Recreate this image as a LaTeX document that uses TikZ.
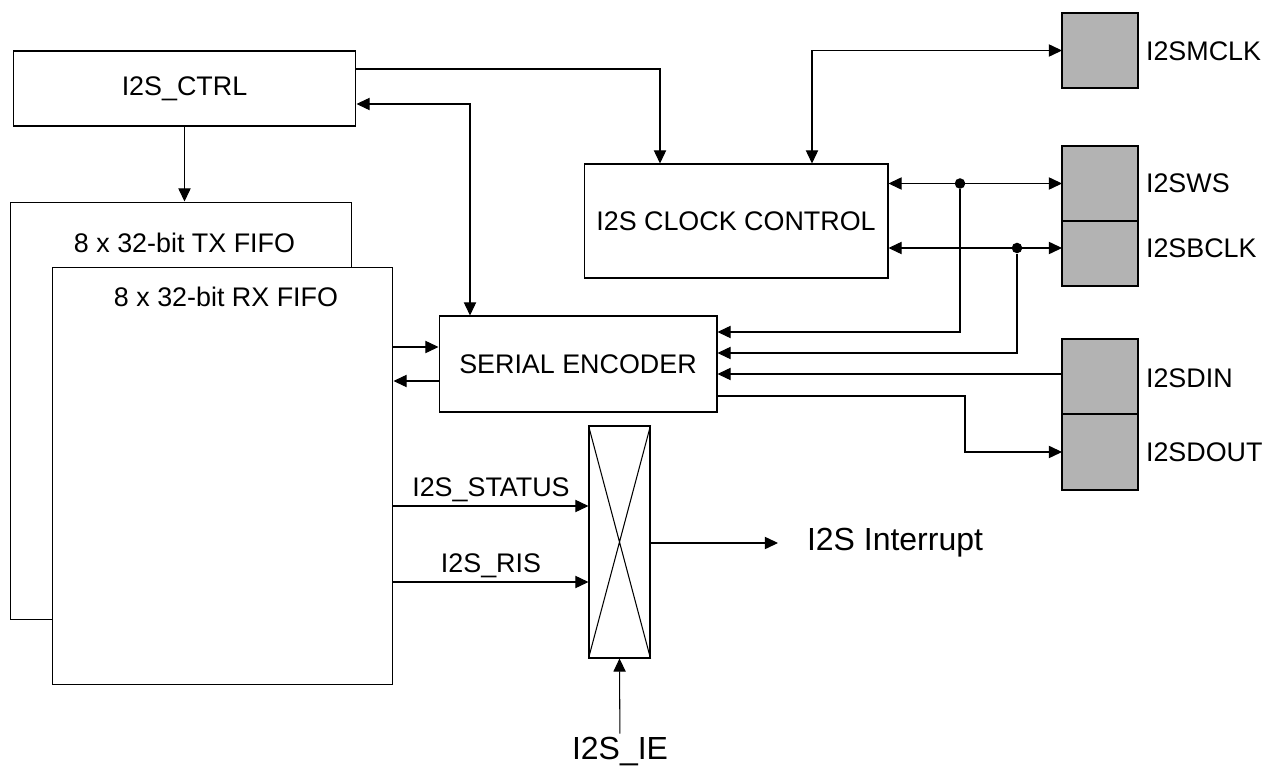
\documentclass[tikz,border=0pt]{standalone}
\usepackage{fontspec}
\setmainfont{Liberation Sans}
\usetikzlibrary{positioning,arrows.meta}
\definecolor{padgray}{RGB}{179,179,179}

\begin{document}
\begin{tikzpicture}[
    x=0.02cm, y=-0.02cm,
    line width=0.6pt,
    box/.style={draw, fill=white, align=center, inner sep=0pt, font=\fontsize{15.3}{18}\selectfont},
    padbox/.style={draw, fill=padgray, minimum width=1.52cm, inner sep=0pt, outer sep=0pt},
    sig/.style={font=\fontsize{15.3}{18}\selectfont, inner sep=2pt},
    bigsig/.style={font=\fontsize{18.2}{22}\selectfont, inner sep=2pt},
    arrow/.style={-{Triangle[length=7.5pt, width=7pt]}},
    dblarrow/.style={{Triangle[length=7.5pt, width=7pt]}-{Triangle[length=7.5pt, width=7pt]}},
    dot/.style={circle, fill, inner sep=0pt, minimum size=6pt},
]
\useasboundingbox (0,0) rectangle (1265,767);

% control and fifos
\node[box, minimum width=6.86cm, minimum height=1.5cm] (ctrl) at (184.5,88.5) {I2S\_CTRL};
\node[box, minimum width=6.84cm, minimum height=8.36cm] (txfifo) at (181,411) {};
\node[sig] (txname) at (184.5,243) {8 x 32-bit TX FIFO};
\node[box, minimum width=6.82cm, minimum height=8.36cm] (rxfifo) at (222.5,476) {};
\node[sig] (rxname) at (226,297) {8 x 32-bit RX FIFO};

% clock, encoder, interrupt mask
\node[box, minimum width=6.08cm, minimum height=2.28cm] (clk) at (736,221) {I2S CLOCK CONTROL};
\node[box, minimum width=5.56cm, minimum height=1.92cm] (enc) at (578,364) {SERIAL ENCODER};
\node[box, minimum width=1.22cm, minimum height=4.64cm] (mux) at (619.5,542) {};
\draw (mux.north west) -- (mux.south east) (mux.north east) -- (mux.south west);

% pads
\node[padbox, minimum height=1.5cm] (mclk) at (1100,50.5) {};
\node[padbox, minimum height=1.5cm] (ws) at (1100,183.5) {};
\node[padbox, minimum height=1.3cm, below=0pt of ws] (bclk) {};
\node[padbox, minimum height=1.5cm] (din) at (1100,376.5) {};
\node[padbox, minimum height=1.52cm, below=0pt of din] (dout) {};
\node[sig, anchor=west] (mclkname) at (1142,51) {I2SMCLK};
\node[sig, anchor=west] (wsname) at (1142,183) {I2SWS};
\node[sig, anchor=west] (bclkname) at (1142,248) {I2SBCLK};
\node[sig, anchor=west] (dinname) at (1142,378) {I2SDIN};
\node[sig, anchor=west] (doutname) at (1142,452) {I2SDOUT};

% connections
\draw[arrow] (ctrl.south) -- (ctrl.south |- txfifo.north);
\draw[arrow] (ctrl.east |- 0,69) -| (clk.north -| 660,0);
\draw[dblarrow] (ctrl.east |- 0,104) -| (enc.north -| 470,0);
\draw[dblarrow] (clk.north -| 812,0) |- (mclk.west);
\draw[dblarrow] (clk.east |- ws.west) -- (ws.west);
\node[dot] (wsdot) at (960,183.5) {};
\draw[dblarrow] (clk.east |- 0,248) -- (bclk.west |- 0,248);
\node[dot] (bclkdot) at (1017,248) {};
\draw[arrow] (wsdot) |- (enc.east |- 0,332);
\draw[arrow] (bclkdot) |- (enc.east |- 0,353);
\draw[arrow] (din.west |- 0,374) -- (enc.east |- 0,374);
\draw[arrow] (enc.east |- 0,396) -- (965,396) |- (dout.west);
\draw[arrow] (rxfifo.east |- 0,347) -- (enc.west |- 0,347);
\draw[arrow] (enc.west |- 0,381) -- (rxfifo.east |- 0,381);
\draw[arrow] (rxfifo.east |- 0,506) -- node[sig, above] {I2S\_STATUS} (mux.west |- 0,506);
\draw[arrow] (rxfifo.east |- 0,582) -- node[sig, above] {I2S\_RIS} (mux.west |- 0,582);

% interrupt
\node[bigsig, anchor=west] (irq) at (803,543) {I2S Interrupt};
\draw[arrow] (mux.east |- 0,543) -- ([xshift=-0.5cm]irq.west);
\node[bigsig] (ie) at (620,752) {I2S\_IE};
\draw[arrow] (ie) -- (mux.south);
\end{tikzpicture}
\end{document}
